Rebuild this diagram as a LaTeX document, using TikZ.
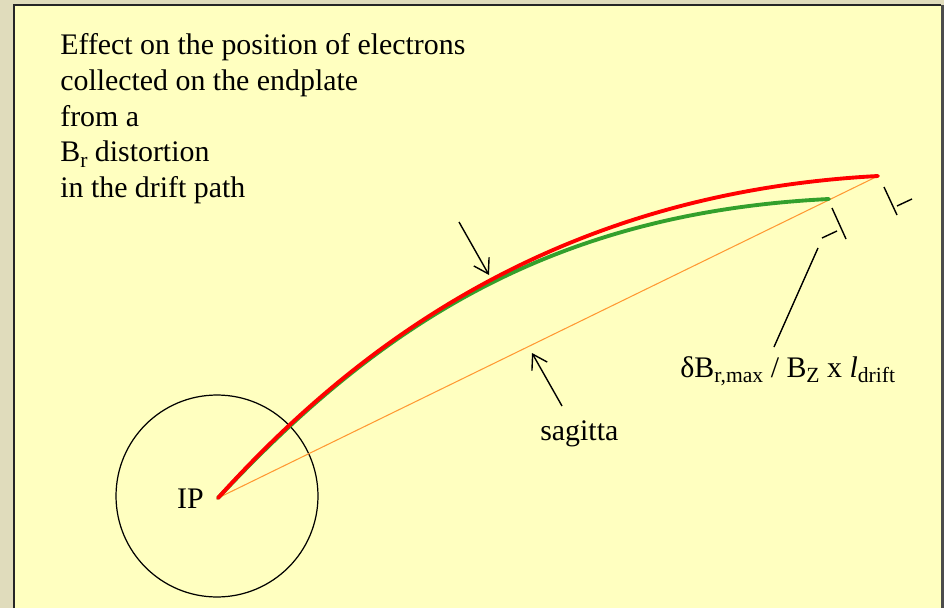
\documentclass[tikz,border=0pt]{standalone}
\usepackage{fontspec}
\setmainfont{Liberation Serif}
\usetikzlibrary{arrows.meta}
\definecolor{panelbg}{RGB}{255,255,192}
\definecolor{outerbg}{RGB}{224,220,188}
\definecolor{trackred}{RGB}{255,0,0}
\definecolor{trackgreen}{RGB}{51,160,44}
\definecolor{chordorange}{RGB}{255,153,51}
\newcommand{\lowtxt}[1]{\raisebox{-3.4pt}{\fontsize{12.3}{13}\selectfont #1}}
\begin{document}
\begin{tikzpicture}[
    x=0.02cm, y=-0.02cm,
    every node/.style={font=\fontsize{17}{20.4}\selectfont, inner sep=0pt},
    track/.style={line width=2.2pt, line cap=round},
    pointer/.style={draw, line width=0.8pt, -{Straight Barb[length=8pt,width=10pt]}},
    dimbar/.style={draw, line width=0.8pt}
]
    % frame
    \fill[outerbg] (0,0) rectangle (944,608);
    \fill[panelbg] (14,5) rectangle (941,608);
    \fill[black!70] (941,5) rectangle (944,608);
    \draw[black!85, line width=0.6pt] (14,608) -- (14,5) -- (941,5);

    % points
    \coordinate (ip) at (218,498);
    \coordinate (redend) at (878,176);
    \coordinate (greenend) at (829,199);

    % text
    \node[anchor=north west, align=left] (title) at (60,33)
        {Effect on the position of electrons\\collected on the endplate\\from a\\B\lowtxt{r} distortion\\in the drift path};
    \node[anchor=base east] (iplabel) at (204,508) {IP};
    \node[anchor=base west] (sagitta) at (540,440) {sagitta};
    \node[anchor=base west] (shift) at (680,377)
        {δB\lowtxt{r,max} / B\lowtxt{Z} x \textit{l}\lowtxt{drift}};

    % detector circle and tracks
    \draw[line width=0.7pt] (217,496) circle[radius=2.02cm];
    \draw[chordorange, line width=0.6pt] (ip) -- (redend);
    \draw[track, trackgreen] (ip) .. controls (374,331) and (545,213) .. (greenend);
    \draw[track, trackred] (ip) .. controls (372,327) and (577,192) .. (redend);

    % pointers
    \coordinate (trackhit) at (489,275);
    \coordinate (trackfrom) at (459,222);
    \draw[pointer] (trackfrom) -- (trackhit);
    \coordinate (chordhit) at (532,353);
    \coordinate (sagfrom) at (562,406);
    \draw[pointer] (sagfrom) -- (chordhit);

    % offset marks
    \coordinate (leadtop) at (818,248);
    \coordinate (leadfoot) at (774,347);
    \draw[dimbar] (leadfoot) -- (leadtop);
    \draw[dimbar] (832,208) -- (846,239);
    \draw[dimbar] (822,238) -- (837,231);
    \draw[dimbar] (884,187) -- (897,215);
    \draw[dimbar] (897,206) -- (912,199);
\end{tikzpicture}
\end{document}
